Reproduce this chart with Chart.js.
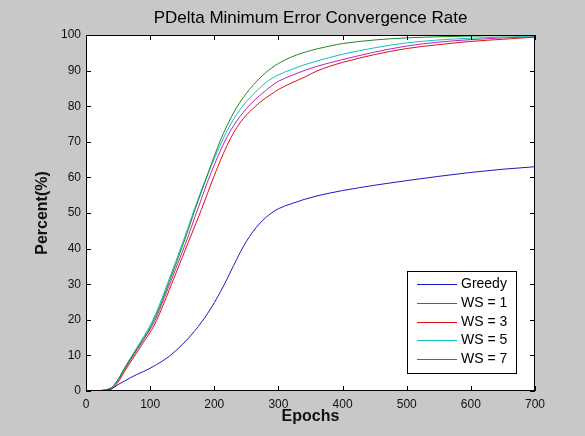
<!DOCTYPE html>
<html lang="en">

<head>
    <meta charset="UTF-8">
    <title>PDelta Minimum Error Convergence Rate</title>
    <script src="https://cdn.jsdelivr.net/npm/chart.js"></script>
    <style>
        body {
            margin: 0;
            background: #c8c8c8;
        }

        canvas {
            display: block;
        }
    </style>
</head>

<body>
    <canvas id="convChart" width="585" height="436"></canvas>

    <script>
        // values
        var epochs = [0, 10, 20, 30, 40, 50, 60, 70, 80, 90, 100, 110, 120, 130, 140, 150, 160, 170, 180, 190, 200,
            210, 220, 230, 240, 250, 260, 270, 280, 290, 300, 320, 340, 360, 380, 400, 450, 500, 550, 600, 650, 700];

        var greedy = [0, 0, 0, 0.1, 0.6, 1.8, 2.8, 3.8, 4.7, 5.5, 6.4, 7.4, 8.5, 9.8, 11.3, 13, 14.9, 17, 19.3, 21.9, 24.8,
            28, 31.5, 35.2, 38.8, 42, 44.7, 46.9, 48.7, 50.1, 51.2, 52.6, 53.8, 54.8, 55.6, 56.3, 57.8, 59.1, 60.3, 61.4, 62.3, 63];

        var ws1 = [0, 0, 0.1, 0.3, 1, 3.2, 6.3, 9.2, 12, 14.8, 17.8, 21.5, 26, 30.8, 35.6, 40.5, 45.6, 51, 56, 61, 66,
            70.6, 74.6, 78.1, 81.1, 83.6, 85.8, 87.7, 89.4, 90.8, 92, 93.8, 95.1, 96.1, 96.9, 97.6, 98.6, 99.2, 99.5, 99.7, 99.8, 99.9];

        var ws3 = [0, 0, 0.1, 0.2, 0.6, 2.5, 5.5, 8.3, 11, 13.8, 16.5, 19.8, 24, 28.5, 33, 37.5, 42, 46.5, 51, 55.8, 60.5,
            65, 69, 72.5, 75.3, 77.5, 79.3, 80.9, 82.3, 83.5, 84.7, 86.5, 88.1, 89.9, 91.2, 92.3, 94.5, 96.2, 97.3, 98.2, 98.8, 99.4];

        var ws5 = [0, 0, 0.1, 0.3, 1, 3.3, 6.5, 9.5, 12.4, 15.3, 18.4, 22.2, 26.8, 31.6, 36.4, 41.3, 46.4, 51.6, 56.5, 61, 65.3,
            69.4, 73.1, 76.3, 79, 81.3, 83.2, 85, 86.6, 87.8, 88.8, 90.3, 91.6, 92.7, 93.7, 94.6, 96.4, 97.8, 98.6, 99.1, 99.4, 99.7];

        var ws7 = [0, 0, 0.1, 0.3, 0.9, 3, 6, 8.9, 11.7, 14.5, 17.3, 20.8, 25.2, 29.8, 34.4, 39, 43.8, 49, 54, 59, 63.5,
            67.7, 71.4, 74.5, 77.1, 79.3, 81.2, 82.9, 84.4, 85.8, 87, 88.6, 90, 91.2, 92.2, 93.1, 95.2, 96.9, 98, 98.7, 99.2, 99.5];

        var seriesNames = ['Greedy', 'WS = 1', 'WS = 3', 'WS = 5', 'WS = 7'];
        var seriesData = [greedy, ws1, ws3, ws5, ws7];
        var seriesColors = ['#1a1acc', '#1f8a1f', '#e01010', '#10c0c0', '#c020c0'];

        var xTicks = [0, 100, 200, 300, 400, 500, 600, 700];
        var yTicks = [0, 10, 20, 30, 40, 50, 60, 70, 80, 90, 100];

        var fontName = "'Liberation Sans', Arial, sans-serif";

        // white plot box, inward ticks on all four sides, legend in the lower right
        var matlabAxes = {
            id: 'matlabAxes',
            beforeDatasetsDraw: function (chart) {
                var ctx = chart.ctx, a = chart.chartArea;
                ctx.save();
                ctx.fillStyle = '#ffffff';
                ctx.fillRect(a.left, a.top, a.right - a.left, a.bottom - a.top);
                ctx.restore();
            },
            afterDatasetsDraw: function (chart) {
                var ctx = chart.ctx, a = chart.chartArea;
                var xs = chart.scales.x, ys = chart.scales.y;
                ctx.save();
                ctx.strokeStyle = '#000000';
                ctx.lineWidth = 1;
                ctx.beginPath();
                xTicks.forEach(function (v) {
                    var px = Math.round(xs.getPixelForValue(v)) + 0.5;
                    ctx.moveTo(px, a.bottom); ctx.lineTo(px, a.bottom - 5);
                    ctx.moveTo(px, a.top); ctx.lineTo(px, a.top + 5);
                });
                yTicks.forEach(function (v) {
                    var py = Math.round(ys.getPixelForValue(v)) + 0.5;
                    ctx.moveTo(a.left, py); ctx.lineTo(a.left + 5, py);
                    ctx.moveTo(a.right, py); ctx.lineTo(a.right - 5, py);
                });
                ctx.stroke();
                ctx.strokeRect(Math.round(a.left) + 0.5, Math.round(a.top) + 0.5,
                    Math.round(a.right - a.left) - 1, Math.round(a.bottom - a.top) - 1);

                // legend
                var lx = a.right - 128, ly = a.bottom - 120, lw = 109, lh = 102;
                ctx.fillStyle = '#ffffff';
                ctx.fillRect(lx, ly, lw, lh);
                ctx.strokeRect(lx + 0.5, ly + 0.5, lw, lh);
                ctx.font = '14px ' + fontName;
                ctx.textBaseline = 'middle';
                ctx.textAlign = 'left';
                chart.data.datasets.forEach(function (ds, i) {
                    var ry = Math.round(ly + 13 + i * 18.8) + 0.5;
                    ctx.strokeStyle = ds.borderColor;
                    ctx.beginPath();
                    ctx.moveTo(lx + 10, ry);
                    ctx.lineTo(lx + 50, ry);
                    ctx.stroke();
                    ctx.fillStyle = '#000000';
                    ctx.fillText(ds.label, lx + 54, ry);
                });
                ctx.restore();
            }
        };

        var ctx = document.getElementById('convChart').getContext('2d');
        var myChart = new Chart(ctx, {
            type: 'line',
            data: {
                datasets: seriesNames.map(function (name, i) {
                    return {
                        label: name,
                        data: epochs.map(function (e, j) { return { x: e, y: seriesData[i][j] }; }),
                        borderColor: seriesColors[i],
                        borderWidth: 1,
                        pointRadius: 0,
                        fill: false,
                        cubicInterpolationMode: 'monotone'
                    };
                })
            },
            plugins: [matlabAxes],
            options: {
                responsive: false,
                animation: false,
                devicePixelRatio: 1,
                layout: {
                    padding: { left: 0, right: 50, top: 0, bottom: 0 }
                },
                plugins: {
                    legend: { display: false },
                    tooltip: { enabled: false },
                    title: {
                        display: true,
                        text: 'PDelta Minimum Error Convergence Rate',
                        fullSize: false,
                        color: '#000000',
                        font: { family: fontName, size: 17, weight: 'normal' },
                        padding: { top: 8, bottom: 6.6 }
                    }
                },
                scales: {
                    x: {
                        type: 'linear',
                        min: 0,
                        max: 700,
                        afterFit: function (scale) { scale.height = 45; },
                        afterBuildTicks: function (scale) {
                            scale.ticks = xTicks.map(function (v) { return { value: v }; });
                        },
                        grid: { display: false, drawTicks: false },
                        border: { display: false },
                        ticks: {
                            color: '#111111',
                            padding: 6,
                            maxRotation: 0,
                            font: { family: fontName, size: 12 }
                        },
                        title: {
                            display: true,
                            text: 'Epochs',
                            color: '#111111',
                            font: { family: fontName, size: 16, weight: 'bold' },
                            padding: { top: 0, bottom: 10 }
                        }
                    },
                    y: {
                        type: 'linear',
                        min: 0,
                        max: 100,
                        afterFit: function (scale) { scale.width = 86; },
                        afterBuildTicks: function (scale) {
                            scale.ticks = yTicks.map(function (v) { return { value: v }; });
                        },
                        grid: { display: false, drawTicks: false },
                        border: { display: false },
                        ticks: {
                            color: '#111111',
                            padding: 5,
                            font: { family: fontName, size: 12 }
                        },
                        title: {
                            display: true,
                            text: 'Percent(%)',
                            color: '#111111',
                            font: { family: fontName, size: 16, weight: 'bold' },
                            padding: { top: 33, bottom: 0 }
                        }
                    }
                }
            }
        });
    </script>
</body>

</html>
